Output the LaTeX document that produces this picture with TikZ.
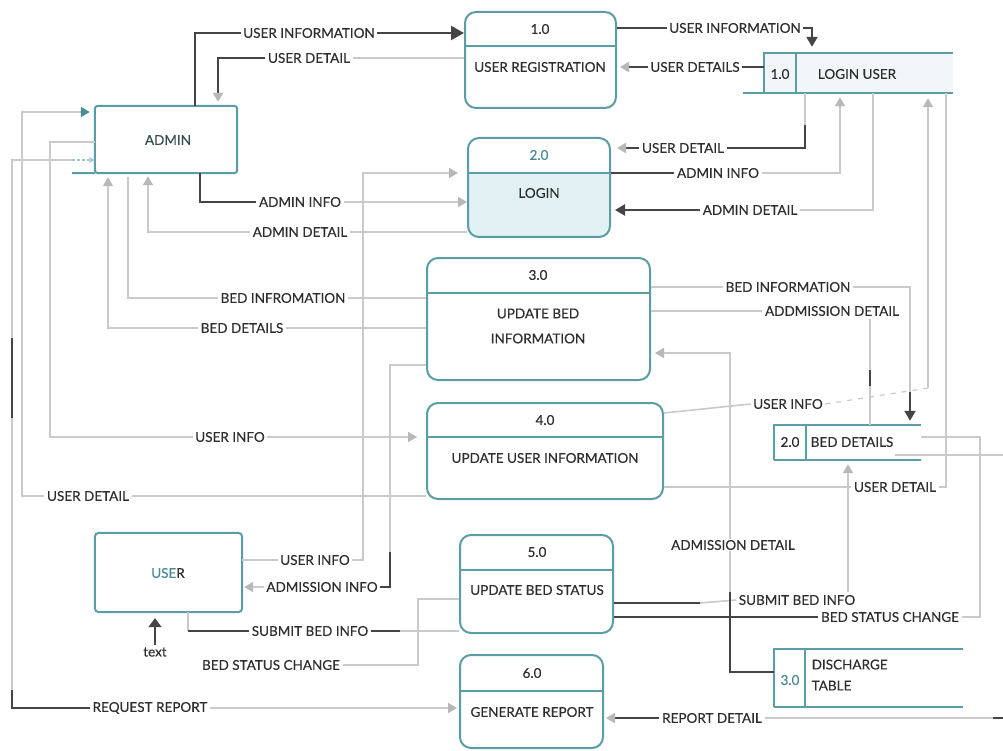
\documentclass[tikz,border=0pt]{standalone}
\usepackage{fontspec}
\setmainfont{Lato}[FakeBold=0.25]
\usetikzlibrary{arrows.meta,fit}
\definecolor{tl}{HTML}{5A9EA5}
\definecolor{tld}{HTML}{4A8C94}
\definecolor{dk}{HTML}{454545}
\definecolor{lg}{HTML}{CACACA}
\definecolor{ga}{HTML}{B8B8B8}
\definecolor{txt}{HTML}{2E2E2E}
\definecolor{lb}{HTML}{E2F1F4}
\definecolor{sf}{HTML}{F3F6F8}
\definecolor{db}{HTML}{9CC8D0}
\begin{document}
\begin{tikzpicture}[x=1pt,y=-1pt,
  lab/.style={font=\fontsize{13.5}{15}\selectfont, text=txt, inner sep=2.5pt},
  proc/.style={draw=tl, line width=2pt, rounded corners=11pt, inner sep=0pt},
  bord/.style={draw=tl, line width=2pt},
  Ln/.style={draw=lg, line width=1.6pt},
  Dk/.style={draw=dk, line width=2.2pt},
  toG/.style={-{Triangle[length=9pt,width=10pt,color=ga]}},
  toD/.style={-{Triangle[length=10pt,width=11pt,color=dk]}},
]
\useasboundingbox (0,0) rectangle (1003,751);
\fill[white] (0,0) rectangle (1003,751);

% ---------- external entities ----------
\node[inner sep=0, fit={(95,106)(237,173)}] (admin) {};
\draw[bord, rounded corners=3pt] (admin.south west) -- (admin.north west) -- (admin.north east) -- (admin.south east) -- cycle;
\draw[bord] (72,173) -- (admin.south west);
\node[lab, text=tld!35!txt] (adminl) at (168,140) {ADMIN};

\node[inner sep=0, fit={(95,533)(242,612)}] (user) {};
\draw[bord, rounded corners=4pt] (user.south west) rectangle (user.north east);
\node[lab] (userl) at (168,573) {\textcolor{tld}{USE}R};

% ---------- processes ----------
\begin{scope}
  \clip[rounded corners=11pt] (468,138) rectangle (610,237);
  \fill[lb] (468,173) rectangle (610,237);
\end{scope}
\node[proc, fit={(465,12)(616,108)}] (p1) {};
\node[proc, fit={(468,138)(610,237)}] (p2) {};
\node[proc, fit={(427,258)(650,380)}] (p3) {};
\node[proc, fit={(427,403)(663,499)}] (p4) {};
\node[proc, fit={(460,535)(613,633)}] (p5) {};
\node[proc, fit={(460,655)(603,748)}] (p6) {};
\draw[bord] (p1.west |- 0,46) -- (p1.east |- 0,46);
\draw[bord] (p2.west |- 0,173) -- (p2.east |- 0,173);
\draw[bord] (p3.west |- 0,293) -- (p3.east |- 0,293);
\draw[bord] (p4.west |- 0,437) -- (p4.east |- 0,437);
\draw[bord] (p5.west |- 0,570) -- (p5.east |- 0,570);
\draw[bord] (p6.west |- 0,691) -- (p6.east |- 0,691);
\node[lab] (p1n) at (540,29) {1.0};
\node[lab] (p1t) at (540,67) {USER REGISTRATION};
\node[lab, text=tld] (p2n) at (539,155) {2.0};
\node[lab] (p2t) at (539,193) {LOGIN};
\node[lab] (p3n) at (538,275) {3.0};
\node[lab, align=center] (p3t) at (538,326) {UPDATE BED\\[10pt]INFORMATION};
\node[lab] (p4n) at (545,420) {4.0};
\node[lab] (p4t) at (545,458) {UPDATE USER INFORMATION};
\node[lab] (p5n) at (537,552) {5.0};
\node[lab] (p5t) at (537,590) {UPDATE BED STATUS};
\node[lab] (p6n) at (532,673) {6.0};
\node[lab] (p6t) at (532,712) {GENERATE REPORT};

% ---------- data stores ----------
\fill[sf] (764,53) rectangle (953,93);
\node[inner sep=0, fit={(764,53)(953,93)}] (s1) {};
\draw[bord] (764,93) -- (764,53) -- (953,53);
\draw[bord] (743,93) -- (953,93);
\draw[bord] (796,53) -- (796,93);
\node[lab] (s1n) at (780,74) {1.0};
\node[lab] (s1t) at (857,74) {LOGIN USER};

\node[inner sep=0, fit={(774,425)(921,460)}] (s2) {};
\draw[bord] (774,460) -- (774,425) -- (921,425);
\draw[bord] (774,460) -- (921,460);
\draw[bord] (806,425) -- (806,460);
\node[lab] (s2n) at (790,442) {2.0};
\node[lab] (s2t) at (852,442) {BED DETAILS};

\node[inner sep=0, fit={(774,649)(963,707)}] (s3) {};
\draw[bord] (774,707) -- (774,649) -- (963,649);
\draw[bord] (774,707) -- (963,707);
\draw[bord] (805,649) -- (805,707);
\node[lab, text=tld] (s3n) at (790,680) {3.0};
\node[lab, align=left, anchor=west] (s3t) at (809,675) {DISCHARGE\\[6pt]TABLE};

% ---------- flow labels, left ----------
\node[lab] (l1) at (309,33) {USER INFORMATION};
\node[lab] (l2) at (309,58) {USER DETAIL};
\node[lab] (l3) at (300,202) {ADMIN INFO};
\node[lab] (l4) at (300,232) {ADMIN DETAIL};
\node[lab] (l5) at (283,298) {BED INFROMATION};
\node[lab] (l6) at (242,328) {BED DETAILS};
\node[lab] (l7) at (230,437) {USER INFO};
\node[lab] (l8) at (88,496) {USER DETAIL};
\node[lab] (l9) at (150,708) {REQUEST REPORT};
\node[lab] (l10) at (315,560) {USER INFO};
\node[lab] (l11) at (322,587) {ADMISSION INFO};
\node[lab] (l12) at (310,631) {SUBMIT BED INFO};
\node[lab] (l13) at (271,665) {BED STATUS CHANGE};
\node[lab] (txt) at (155,652) {text};

% ---------- flow labels, right ----------
\node[lab] (r1) at (735,28) {USER INFORMATION};
\node[lab] (r2) at (695,67) {USER DETAILS};
\node[lab] (r3) at (683,148) {USER DETAIL};
\node[lab] (r4) at (718,173) {ADMIN INFO};
\node[lab] (r5) at (750,210) {ADMIN DETAIL};
\node[lab] (r6) at (788,287) {BED INFORMATION};
\node[lab] (r7) at (832,311) {ADDMISSION DETAIL};
\node[lab] (r8) at (788,404) {USER INFO};
\node[lab] (r9) at (895,487) {USER DETAIL};
\node[lab] (r10) at (797,600) {SUBMIT BED INFO};
\node[lab] (r11) at (890,617) {BED STATUS CHANGE};
\node[lab, fill=white, inner sep=1pt] (r12) at (733,545) {ADMISSION DETAIL};
\node[lab] (r13) at (712,718) {REPORT DETAIL};

% ---------- flows on the left ----------
\draw[Dk] (admin.north -| 195,0) -- (195,33) -- (l1.west);
\draw[Dk, -{Triangle[length=13pt,width=14pt]}] (l1.east) -- (p1.west |- l1);

\draw[Ln] (p1.west |- l2) -- (l2.east);
\draw[Dk, toG, shorten >=4pt] (l2.west) -- (218,58) -- (admin.north -| 218,0);

\draw[Dk] (admin.south -| 200,0) -- (200,202) -- (l3.west);
\draw[Ln, toG] (l3.east) -- (p2.west |- l3);

\draw[Ln] (p2.west |- l4) -- (l4.east);
\draw[Ln, toG, shorten >=3pt] (l4.west) -- (148,232) -- (admin.south -| 148,0);

\draw[Ln] (p3.west |- l5) -- (l5.east);
\draw[Ln, shorten >=4pt] (l5.west) -- (128,298) -- (admin.south -| 128,0);

\draw[Ln] (p3.west |- l6) -- (l6.east);
\draw[Ln, toG, shorten >=4pt] (l6.west) -- (108,328) -- (admin.south -| 108,0);

\draw[Ln] (admin.west |- 0,142) -- (50,142) -- (50,437) -- (l7.west);
\draw[Ln, toG, shorten >=9pt] (l7.east) -- (p4.west |- l7);

\draw[Ln] (p4.west |- l8) -- (l8.east);
\draw[Ln, -{Triangle[length=9pt,width=10pt,color=tld]}, shorten >=5pt] (l8.west) -- (22,496) -- (22,112) -- (admin.west |- 0,112);

\coordinate (rq) at (72,160);
\draw[db, line width=1.2pt, dash pattern=on 3pt off 2pt, -{Stealth[length=6pt,width=6pt]}] (rq) -- (admin.west |- rq);
\draw[Ln] (rq) -- (12,160) -- (12,708) -- (l9.west);
\draw[Dk, line width=1.8pt] (12,338) -- (12,418);
\draw[Dk, line width=1.6pt] (12,690) -- (12,708) -- (l9.west);
\draw[Ln, toG, shorten >=2pt] (l9.east) -- (p6.west |- l9);

\draw[Ln] (user.east |- l10) -- (l10.west);
\draw[Ln, toG, shorten >=9pt] (l10.east) -- (363,560) -- (363,173) -- (p2.west |- 0,173);

\draw[Ln] (p3.west |- 0,365) -- (390,365) -- (390,587) -- (l11.east);
\draw[Dk, line width=1.8pt] (390,552) -- (390,587) -- (l11.east);
\draw[Ln, toG, shorten >=2pt] (l11.west) -- (user.east |- l11);

\draw[Ln] (user.south -| 188,0) -- (188,631);
\draw[Dk] (188,631) -- (l12.west);
\draw[Dk] (l12.east) -- (400,631);
\draw[Ln] (400,631) -- (p5.west |- l12);

\draw[Ln] (p5.west |- 0,599) -- (418,599) -- (418,665) -- (l13.east);

\draw[Dk, line width=1.8pt, -{Triangle[length=9pt,width=13pt]}, shorten >=6pt] (txt.north) -- (txt.north |- user.south);

% ---------- flows on the right ----------
\draw[Dk] (p1.east |- r1) -- (r1.west);
\draw[Dk, toD, shorten >=6pt] (r1.east) -- (812,28) -- (s1.north -| 812,0);

\draw[Dk] (s1.west |- r2) -- (r2.east);
\draw[Dk, toG, shorten >=3pt] (r2.west) -- (p1.east |- r2);

\draw[Ln] (s1.south -| 805,0) -- (805,125);
\draw[Dk] (805,125) -- (805,148) -- (r3.east);
\draw[Dk, toG, shorten >=6pt] (r3.west) -- (p2.east |- r3);

\draw[Dk] (p2.east |- r4) -- (r4.west);
\draw[Ln, toG, shorten >=4pt] (r4.east) -- (840,173) -- (s1.south -| 840,0);

\draw[Ln] (s1.south -| 873,0) -- (873,210) -- (r5.east);
\draw[Dk, toD, shorten >=4pt] (r5.west) -- (p2.east |- r5);

\draw[Ln] (p3.east |- r6) -- (r6.west);
\draw[Ln] (r6.east) -- (910,287) -- (910,392);
\draw[Dk, toD, shorten >=4pt] (910,392) -- (s2.north -| 910,0);

\draw[Ln] (p3.east |- r7) -- (r7.west);
\draw[Ln] (r7.south -| 870,0) -- (s2.north -| 870,0);
\draw[Dk, line width=1.8pt] (870,370) -- (870,386);

\draw[Ln] (p4.east |- 0,413) -- (r8.west);
\draw[lg, line width=1.2pt, dash pattern=on 5pt off 6pt] (r8.east) -- (928,388);
\draw[Ln, toG, shorten >=5pt] (928,388) -- (s1.south -| 928,0);

\draw[Ln] (p4.east |- r9) -- (r9.west);
\draw[Ln] (r9.east) -- (946,487) -- (s1.south -| 946,0);

\draw[Dk] (p5.east |- 0,603) -- (700,603);
\draw[Ln] (700,603) -- (r10.west);
\draw[Ln, toG, shorten >=4pt] (r10.north -| 848,0) -- (s2.south -| 848,0);

\draw[Ln] (s2.east |- 0,437) -- (980,437) -- (980,617) -- (r11.east);
\draw[Dk] (r11.west) -- (p5.east |- r11);

\draw[Dk] (s3.west |- 0,672) -- (730,672) -- (730,592);
\draw[Ln] (730,592) -- (r12.south -| 730,0);
\draw[Ln, toG, shorten >=4pt] (r12.north -| 730,0) -- (730,353) -- (p3.east |- 0,353);

\coordinate (edge) at (1003,718);
\draw[Ln] (edge) -- (r13.east);
\draw[Dk] (993,718) -- (edge);
\draw[Dk, toG, shorten >=2pt] (r13.west) -- (p6.east |- r13);

\coordinate (edge2) at (1003,455);
\draw[Ln] (895,455) -- (edge2);
\end{tikzpicture}
\end{document}
